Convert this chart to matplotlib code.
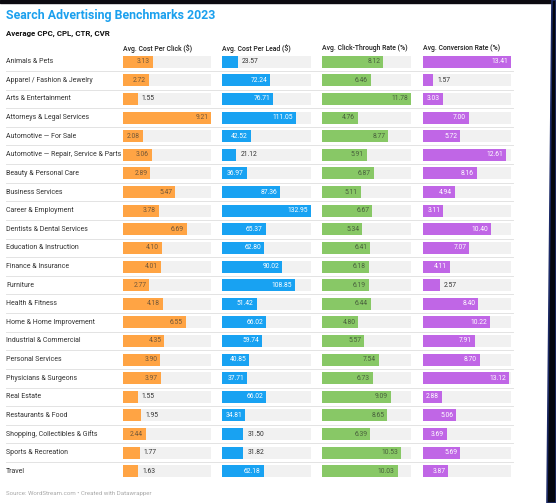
import matplotlib.pyplot as plt
from matplotlib.patches import Polygon, Rectangle
from matplotlib.transforms import offset_copy

plt.rcParams['font.family'] = ['Roboto', 'DejaVu Sans']

categories = [
    'Animals & Pets', 'Apparel / Fashion & Jewelry', 'Arts & Entertainment',
    'Attorneys & Legal Services', 'Automotive — For Sale',
    'Automotive — Repair, Service & Parts', 'Beauty & Personal Care',
    'Business Services', 'Career & Employment', 'Dentists & Dental Services',
    'Education & Instruction', 'Finance & Insurance', 'Furniture',
    'Health & Fitness', 'Home & Home Improvement', 'Industrial & Commercial',
    'Personal Services', 'Physicians & Surgeons', 'Real Estate',
    'Restaurants & Food', 'Shopping, Collectibles & Gifts',
    'Sports & Recreation', 'Travel',
]
cpc = [3.13, 2.72, 1.55, 9.21, 2.08, 3.06, 2.89, 5.47, 3.78, 6.69, 4.10, 4.01,
       2.77, 4.18, 6.55, 4.35, 3.90, 3.97, 1.55, 1.95, 2.44, 1.77, 1.63]
cpl = [23.57, 72.24, 76.71, 111.05, 42.52, 21.12, 36.97, 87.36, 132.95, 65.37,
       62.80, 90.02, 108.85, 51.42, 66.02, 59.74, 40.85, 37.71, 66.02, 34.81,
       31.50, 31.82, 62.18]
ctr = [8.12, 6.46, 11.78, 4.76, 8.77, 5.91, 6.87, 5.11, 6.67, 5.34, 6.41, 6.18,
       6.19, 6.44, 4.80, 5.57, 7.54, 6.73, 9.09, 8.65, 6.39, 10.53, 10.03]
cvr = [13.41, 1.57, 3.03, 7.00, 5.72, 12.61, 8.16, 4.94, 3.11, 10.40, 7.07, 4.11,
       2.57, 8.40, 10.22, 7.91, 8.70, 13.12, 2.88, 5.06, 3.69, 5.69, 3.87]
headers = ['Avg. Cost Per Click ($)', 'Avg. Cost Per Lead ($)',
           'Avg. Click-Through Rate (%)', 'Avg. Conversion Rate (%)']

W, H = 556, 503
fig = plt.figure(figsize=(W / 100, H / 100), dpi=100)
fig.patch.set_facecolor('white')

n = len(categories)
row_h = 18.62
top = 61.7 - row_h / 2
bottom = top + n * row_h


def px_axes(x0, x1):
    return fig.add_axes([x0 / W, 1 - bottom / H, (x1 - x0) / W, (bottom - top) / H])


# row labels and thin separators
lab = px_axes(0, W)
lab.set_xlim(0, W)
lab.set_ylim(n - 0.5, -0.5)
lab.axis('off')
for i, c in enumerate(categories):
    lab.text(6, i, c, fontsize=5.0, color='#333333', va='center', ha='left')
for i in range(n - 1):
    lab.plot([6, 513], [i + 0.5, i + 0.5], color='#e3e3e3', lw=0.7)

# values, bar colour, label colour inside bar, smallest value labelled inside, left px
columns = [
    (cpc, '#ffa444', '#5a4a36', 2.0, 122.7),
    (cpl, '#18a2f2', 'white', 33.0, 222.3),
    (ctr, '#88c866', '#3e4e36', 0.0, 322.3),
    (cvr, '#c066e6', 'white', 2.7, 422.7),
]
track_w = 88.5

for (vals, color, txt_col, min_inside, x0), head in zip(columns, headers):
    ax = px_axes(x0, x0 + track_w)
    vmax = max(vals)
    ax.set_xlim(0, vmax)
    ax.set_ylim(n - 0.5, -0.5)
    ax.axis('off')
    rows = range(n)
    ax.barh(rows, [vmax] * n, height=0.645, color='#f1f1f1', lw=0)
    ax.barh(rows, vals, height=0.645, color=color, lw=0)
    inside_tr = offset_copy(ax.transData, fig=fig, x=-3, y=0, units='dots')
    outside_tr = offset_copy(ax.transData, fig=fig, x=4, y=0, units='dots')
    for i, v in enumerate(vals):
        s = f'{v:.2f}'
        if v >= min_inside:
            ax.text(v, i, s, transform=inside_tr, ha='right', va='center',
                    fontsize=4.9, color=txt_col,
                    alpha=0.85 if txt_col != 'white' else 1)
        else:
            ax.text(v, i, s, transform=outside_tr, ha='left', va='center',
                    fontsize=4.9, color='#333333')
    fig.text(x0 / W, 1 - 48.5 / H, head, fontsize=4.95, fontweight='medium',
             color='#222222', ha='left', va='center')

fig.text(6 / W, 1 - 15 / H, 'Search Advertising Benchmarks 2023', fontsize=8.9,
         fontweight='bold', color='#1ba0ee', ha='left', va='center')
fig.text(6 / W, 1 - 33.5 / H, 'Average CPC, CPL, CTR, CVR', fontsize=5.65,
         fontweight='bold', color='#111111', ha='left', va='center')
fig.text(6 / W, 1 - 494 / H, 'Source: WordStream.com • Created with Datawrapper',
         fontsize=4.4, color='#a8a8a8', ha='left', va='center')

# dark screenshot frame at top and right
fig.patches.append(Rectangle((0, 1 - 3 / H), 1, 3 / H, transform=fig.transFigure,
                             color='#0c0a10', zorder=10))
fig.patches.append(Polygon([(551.5 / W, 1), (1, 1), (1, 0), (546.5 / W, 0)],
                           closed=True, transform=fig.transFigure,
                           facecolor='#05070f', edgecolor='#1c2a66', lw=1.2, zorder=10))

fig.savefig('out.png', dpi=100, facecolor='white')
